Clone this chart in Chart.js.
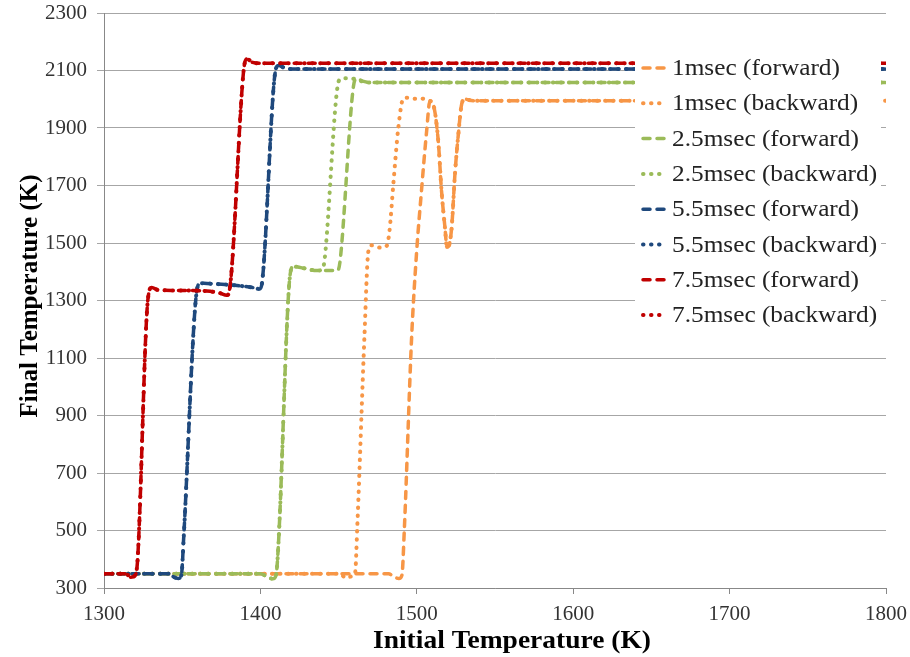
<!DOCTYPE html>
<html>
<head>
<meta charset="utf-8">
<title>Final vs Initial Temperature</title>
<script src="https://cdn.jsdelivr.net/npm/chart.js@4.4.1/dist/chart.umd.min.js"></script>
<style>
html,body{margin:0;padding:0;background:#fff;}
#wrap{width:910px;height:657px;}
</style>
</head>
<body>
<div id="wrap"><canvas id="tempChart" width="910" height="657"></canvas></div>
<script>
// initial temperature (K) / final temperature (K)
var t1F = [1300, 1482, 1485, 1488.5, 1490.5, 1492, 1496.7, 1499.8, 1503, 1506.3, 1508.4, 1510.4, 1513.7, 1515.8, 1518, 1519.3, 1520.3, 1522.3, 1524.4, 1526.6, 1528.7, 1530.8, 1536, 1800];
var f1F = [350, 350, 340, 333, 345, 500, 1173, 1462, 1682, 1890, 1994, 1984, 1856, 1682, 1554, 1485, 1488, 1554, 1741, 1880, 1983, 2000, 1995, 1995];

var t1B = [1300, 1451, 1454.5, 1458, 1460.5, 1462, 1466.5, 1469, 1471, 1476.5, 1480.7, 1482.5, 1485, 1488.2, 1491.4, 1494, 1497.8, 1503.1, 1508.4, 1510.4, 1513.7, 1515.8, 1518, 1519.3, 1520.3, 1522.3, 1524.4, 1526.6, 1528.7, 1530.8, 1536, 1800];
var f1B = [350, 350, 335, 340, 350, 520, 1172, 1470, 1492, 1484, 1490, 1540, 1705, 1902, 2003, 2005, 2002, 2002, 1994, 1984, 1856, 1682, 1554, 1485, 1488, 1554, 1741, 1880, 1983, 2000, 1995, 1995];

var t25F = [1300, 1400, 1404, 1408, 1410, 1411.5, 1419, 1421, 1428, 1436, 1444, 1449.5, 1451, 1459.5, 1461.5, 1466, 1470, 1800];
var f25F = [350, 350, 340, 332, 345, 450, 1390, 1418, 1412, 1404, 1404, 1405, 1440, 2045, 2071, 2062, 2058, 2058];

var t25B = [1300, 1400, 1404, 1408, 1410, 1411.5, 1419, 1421, 1428, 1436, 1439.5, 1441, 1449.5, 1451.5, 1455, 1460, 1465, 1470, 1800];
var f25B = [350, 350, 340, 332, 345, 450, 1390, 1418, 1412, 1404, 1408, 1440, 2050, 2071, 2073, 2071, 2062, 2058, 2058];

var t55F = [1300, 1341, 1344, 1347.5, 1349.5, 1351, 1359, 1361.5, 1370, 1385, 1395, 1399.5, 1401, 1409.5, 1411.5, 1416, 1420, 1800];
var f55F = [350, 350, 340, 333, 345, 480, 1320, 1360, 1358, 1352, 1345, 1340, 1360, 2095, 2117, 2108, 2105, 2105];

var t55B = [1300, 1341, 1344, 1347.5, 1349.5, 1351, 1359, 1361.5, 1370, 1385, 1395, 1399.5, 1401, 1409.5, 1411.5, 1416, 1420, 1800];
var f55B = [350, 350, 340, 333, 345, 480, 1320, 1360, 1358, 1352, 1345, 1340, 1360, 2095, 2117, 2108, 2105, 2105];

var t75F = [1300, 1314, 1317, 1320, 1321.5, 1328, 1330.5, 1335, 1350, 1365, 1374, 1378.5, 1380, 1389.5, 1391.5, 1395, 1400, 1800];
var f75F = [350, 350, 337, 345, 400, 1300, 1345, 1336, 1335, 1333, 1326, 1318, 1330, 2110, 2140, 2128, 2125, 2125];

var t75B = [1300, 1314, 1317, 1320, 1321.5, 1328, 1330.5, 1335, 1350, 1365, 1374, 1378.5, 1380, 1389.5, 1391.5, 1395, 1400, 1800];
var f75B = [350, 350, 337, 345, 400, 1300, 1345, 1336, 1335, 1333, 1326, 1318, 1330, 2110, 2140, 2128, 2125, 2125];

var seriesNames = ["1msec (forward)", "1msec (backward)", "2.5msec (forward)", "2.5msec (backward)",
                   "5.5msec (forward)", "5.5msec (backward)", "7.5msec (forward)", "7.5msec (backward)"];
var seriesX = [t1F, t1B, t25F, t25B, t55F, t55B, t75F, t75B];
var seriesY = [f1F, f1B, f25F, f25B, f55F, f55B, f75F, f75B];
var seriesColors = ["#F79646", "#F79646", "#9BBB59", "#9BBB59", "#1F497D", "#1F497D", "#C00000", "#C00000"];

var xTicks = [1300, 1400, 1500, 1600, 1700, 1800];
var yTicks = [300, 500, 700, 900, 1100, 1300, 1500, 1700, 1900, 2100, 2300];

var serif = "'Liberation Serif', 'Times New Roman', serif";
var dashed = [7, 7];
var dotted = [0.5, 7.5];

function toPoints(xs, ys){
  var pts = [];
  for (var i = 0; i < xs.length; i++) pts.push({x: xs[i], y: ys[i]});
  return pts;
}

var datasets = [];
for (var i = 0; i < seriesNames.length; i++) {
  var back = i % 2 === 1;
  datasets.push({
    label: seriesNames[i],
    data: toPoints(seriesX[i], seriesY[i]),
    borderColor: seriesColors[i],
    backgroundColor: seriesColors[i],
    borderWidth: back ? 4 : 3.5,
    borderDash: back ? dotted : dashed,
    borderCapStyle: "round",
    borderJoinStyle: "round",
    pointRadius: 0,
    pointHoverRadius: 0,
    cubicInterpolationMode: "monotone",
    fill: false,
    showLine: true,
    order: seriesNames.length - i   // later series on top, like the original
  });
}

// legend with white box sitting over the plot + axis titles
var overlay = {
  id: "overlay",
  afterDraw: function(chart){
    var ctx = chart.ctx;
    ctx.save();
    ctx.fillStyle = "#fff";
    ctx.fillRect(635, 50, 246, 290);
    chart.data.datasets.forEach(function(ds, i){
      var y = 68 + i * 35.3;
      ctx.beginPath();
      ctx.strokeStyle = ds.borderColor;
      ctx.lineWidth = ds.borderWidth;
      ctx.lineCap = "round";
      ctx.setLineDash(ds.borderDash);
      ctx.moveTo(643, y);
      ctx.lineTo(666, y);
      ctx.stroke();
      ctx.setLineDash([]);
      ctx.save();
      ctx.translate(672, y);
      ctx.scale(1.1, 1);
      ctx.fillStyle = "#222";
      ctx.font = "23px " + serif;
      ctx.textAlign = "left";
      ctx.textBaseline = "middle";
      ctx.fillText(ds.label, 0, 1);
      ctx.restore();
    });

    ctx.fillStyle = "#000";
    ctx.textAlign = "center";
    ctx.textBaseline = "middle";
    ctx.save();
    ctx.translate(512, 642);
    ctx.scale(1.1, 1);
    ctx.font = "bold 25px " + serif;
    ctx.fillText("Initial Temperature (K)", 0, 0);
    ctx.restore();

    ctx.save();
    ctx.translate(31, 296);
    ctx.rotate(-Math.PI / 2);
    ctx.font = "bold 25px " + serif;
    ctx.fillText("Final Temperature (K)", 0, 0);
    ctx.restore();
    ctx.restore();
  }
};

function plainLabel(v){ return String(v); }

var chart = new Chart(document.getElementById("tempChart"), {
  type: "line",
  data: { datasets: datasets },
  plugins: [overlay],
  options: {
    responsive: false,
    animation: false,
    devicePixelRatio: 1,
    layout: { padding: { top: 13, right: 24, left: 0, bottom: 0 } },
    plugins: {
      legend: { display: false },
      tooltip: { enabled: false },
      title: { display: false }
    },
    scales: {
      x: {
        type: "linear",
        min: xTicks[0],
        max: xTicks[xTicks.length - 1],
        afterFit: function(s){ s.height = 69; s.paddingLeft = 0; s.paddingRight = 0; },
        afterBuildTicks: function(s){ s.ticks = xTicks.map(function(v){ return {value: v}; }); },
        ticks: { color: "#333", padding: 8, maxRotation: 0, callback: plainLabel, font: { family: serif, size: 21 } },
        grid: { drawOnChartArea: false, drawTicks: true, tickLength: 6, color: "#888" },
        border: { color: "#888", width: 1 }
      },
      y: {
        type: "linear",
        min: yTicks[0],
        max: yTicks[yTicks.length - 1],
        afterFit: function(s){ s.width = 104; s.paddingTop = 0; s.paddingBottom = 0; },
        afterBuildTicks: function(s){ s.ticks = yTicks.map(function(v){ return {value: v}; }); },
        ticks: { color: "#333", padding: 10, callback: plainLabel, font: { family: serif, size: 21 } },
        grid: { color: "#a6a6a6", tickLength: 7, drawTicks: true },
        border: { color: "#888", width: 1 }
      }
    }
  }
});
</script>
</body>
</html>
